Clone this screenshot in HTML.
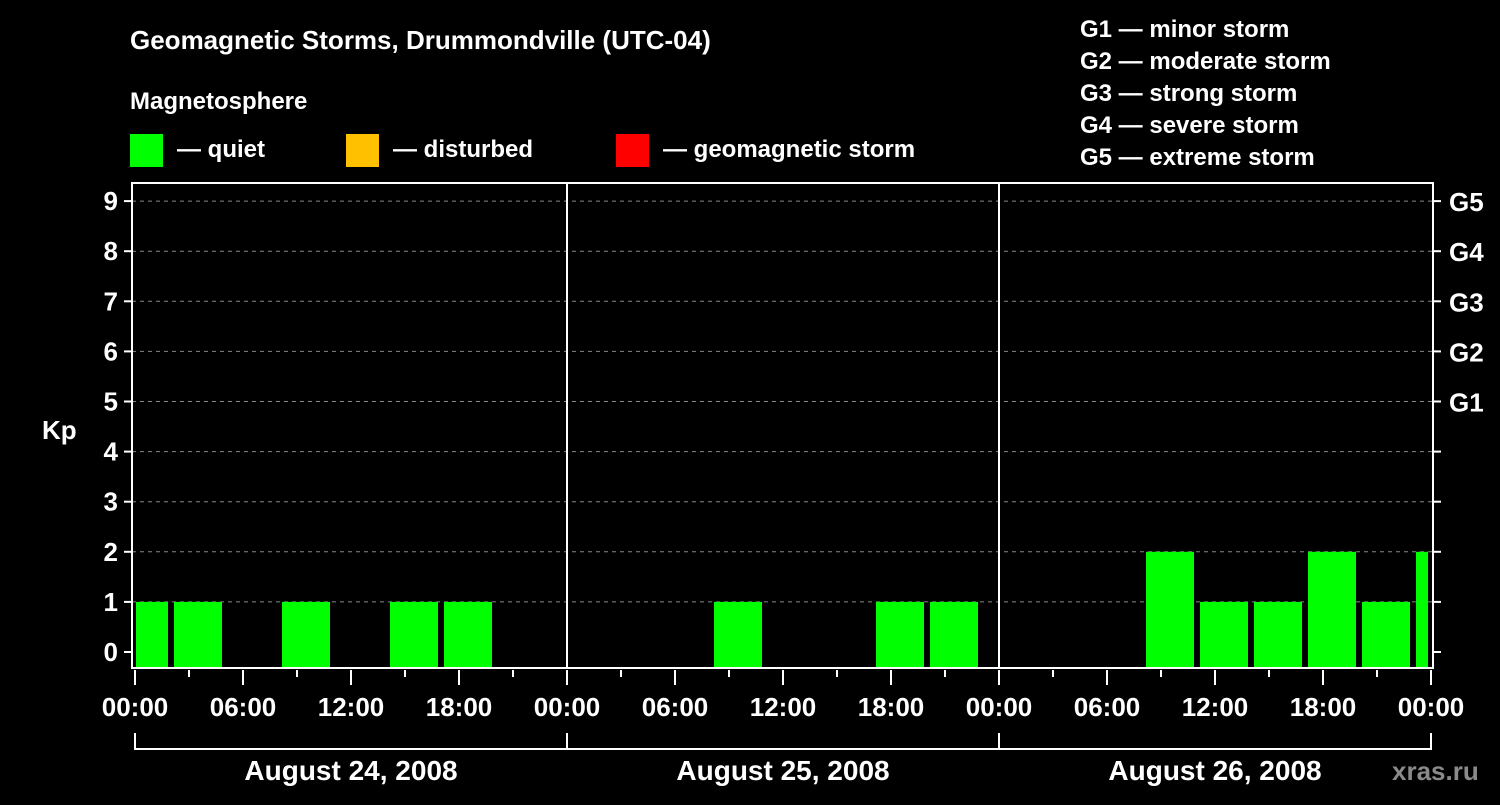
<!DOCTYPE html>
<html><head><meta charset="utf-8"><style>
body{margin:0;background:#000;}
svg text{font-family:"Liberation Sans",Arial,sans-serif;font-weight:bold;fill:#fff;}
</style></head><body>
<svg width="1500" height="800" viewBox="0 0 1500 800">
<rect width="1500" height="800" fill="#000"/>
<text x="130" y="49" font-size="26">Geomagnetic Storms, Drummondville (UTC-04)</text>
<text x="130" y="109" font-size="24">Magnetosphere</text>
<g><rect x="130" y="134" width="33" height="33" fill="#00ff00"/><text x="177" y="157" font-size="24">— quiet</text></g>
<g><rect x="346" y="134" width="33" height="33" fill="#ffc000"/><text x="393" y="157" font-size="24">— disturbed</text></g>
<g><rect x="616" y="134" width="33" height="33" fill="#ff0000"/><text x="663" y="157" font-size="24">— geomagnetic storm</text></g>
<g font-size="24">
<text x="1080" y="37">G1 — minor storm</text>
<text x="1080" y="69">G2 — moderate storm</text>
<text x="1080" y="101">G3 — strong storm</text>
<text x="1080" y="133">G4 — severe storm</text>
<text x="1080" y="165">G5 — extreme storm</text>
</g>
<text x="42" y="439" font-size="26">Kp</text>
<g id="grid"></g>
<g id="bars"></g>
<g id="axes"></g>
<text x="1392" y="780" font-size="26" fill="#888" style="fill:#8a8a8a">xras.ru</text>
</svg>
<script>
const kpValues=[1,1,0,1,0,1,1,0,0,0,0,1,0,0,1,1,0,0,0,2,1,1,2,1,2];
const slotStartHours=[-1,2,5,8,11,14,17,20,23,26,29,32,35,38,41,44,47,50,53,56,59,62,65,68,71];
const yTicks=[0,1,2,3,4,5,6,7,8,9];
const gLabels=["G1","G2","G3","G4","G5"];
const gLevels=[5,6,7,8,9];
const xTickLabels=["00:00","06:00","12:00","18:00","00:00","06:00","12:00","18:00","00:00","06:00","12:00","18:00","00:00"];
const dayLabels=["August 24, 2008","August 25, 2008","August 26, 2008"];
const NS="http://www.w3.org/2000/svg";
const xs=h=>135+h*18;
const ys=k=>652-k*50.1;
const L=132,R=1433,T=183,B=668;
function mk(tag,attrs,parent){const e=document.createElementNS(NS,tag);for(const k in attrs)e.setAttribute(k,attrs[k]);document.getElementById(parent).appendChild(e);return e;}
yTicks.forEach(k=>{
  if(k>=1){const g=mk('line',{x1:L,x2:R,y1:ys(k),y2:ys(k),stroke:'#888','stroke-dasharray':'4,4','stroke-width':1},'grid');
  
  }
  const t=mk('line',{x1:L-8,x2:L,y1:ys(k),y2:ys(k),stroke:'#fff','stroke-width':2},'axes');
  
  
  const t2=mk('line',{x1:R,x2:R+8,y1:ys(k),y2:ys(k),stroke:'#fff','stroke-width':2},'axes');
  
  
  const lb=mk('text',{x:L-14,y:ys(k)+9,'text-anchor':'end','font-size':26},'axes');
  lb.textContent=k;
  
  
});
gLevels.forEach((k,i)=>{
  const lb=mk('text',{x:1449,y:ys(k)+10,'font-size':26},'axes');
  lb.textContent=gLabels[i];
  
  
});
kpValues.forEach((v,i)=>{
  if(v<=0)return;
  const s=slotStartHours[i];
  const x0=Math.max(xs(s)+3,136), x1=Math.min(xs(s+3)-3,1428);
  const col=v>=5?'#ff0000':(v>=4?'#ffc000':'#00ff00');
  const b=mk('rect',{x:x0,y:ys(v),width:x1-x0,height:B-1-ys(v),fill:col},'bars');
  
  
});
const box=mk('rect',{x:L,y:T,width:R-L,height:B-T,fill:'none',stroke:'#fff','stroke-width':2},'axes');


[1,2].forEach(d=>{const l=mk('line',{x1:xs(24*d),x2:xs(24*d),y1:T,y2:B,stroke:'#fff','stroke-width':2},'axes');
  
  });
for(let h=0;h<=72;h+=3){
  const major=h%6===0;
  const t=mk('line',{x1:xs(h),x2:xs(h),y1:B+2,y2:major?B+17:B+9,stroke:'#fff','stroke-width':2},'axes');
  
  
}
xTickLabels.forEach((s,i)=>{
  const lb=mk('text',{x:xs(i*6),y:716,'text-anchor':'middle','font-size':26},'axes');
  lb.textContent=s;
  
  
});
dayLabels.forEach((s,d)=>{
  const p=mk('path',{d:`M${xs(24*d)},733 V749 H${xs(24*d+24)} V733`,fill:'none',stroke:'#fff','stroke-width':2},'axes');
  
  
  const lb=mk('text',{x:xs(24*d+12),y:780,'text-anchor':'middle','font-size':28},'axes');
  lb.textContent=s;
  
  
});
</script>
</body></html>
